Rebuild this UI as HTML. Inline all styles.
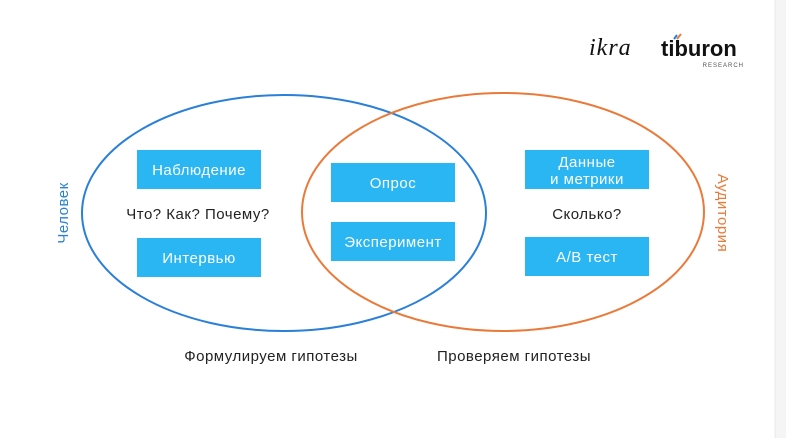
<!DOCTYPE html>
<html><head><meta charset="utf-8"><style>
html,body{margin:0;padding:0;background:#fff;}
body{width:786px;height:438px;overflow:hidden;position:relative;font-family:"Liberation Sans","Noto Sans CJK SC",sans-serif;}
</style></head><body>
<svg width="786" height="438" viewBox="0 0 786 438" xmlns="http://www.w3.org/2000/svg" style="position:absolute;left:0;top:0">
<rect x="775" y="0" width="11" height="438" fill="#f5f5f5"/>
<line x1="775" y1="0" x2="775" y2="438" stroke="#e8e8e8" stroke-width="1"/>
<ellipse cx="284" cy="213" rx="202" ry="118" fill="none" stroke="#2a7fd8" stroke-width="2"/>
<ellipse cx="503" cy="212" rx="201" ry="119" fill="none" stroke="#ea7a3a" stroke-width="2"/>
<g fill="#29b6f2">
<rect x="137" y="150" width="124" height="39"/>
<rect x="137" y="238" width="124" height="39"/>
<rect x="331" y="163" width="124" height="39"/>
<rect x="331" y="222" width="124" height="39"/>
<rect x="525" y="150" width="124" height="39"/>
<rect x="525" y="237" width="124" height="39"/>
</g>
<g font-family="Liberation Sans, sans-serif" font-size="15" letter-spacing="0.5" fill="#fff" text-anchor="middle">
<text x="199" y="175">Наблюдение</text>
<text x="199" y="263">Интервью</text>
<text x="393" y="188">Опрос</text>
<text x="393" y="247">Эксперимент</text>
<text x="587" y="167">Данные</text>
<text x="587" y="184">и метрики</text>
<text x="587" y="262">A/B тест</text>
</g>
<g font-family="Liberation Sans, sans-serif" font-size="15" letter-spacing="0.5" fill="#222" text-anchor="middle">
<text x="198" y="219">Что? Как? Почему?</text>
<text x="587" y="219">Сколько?</text>
<text x="271" y="361">Формулируем гипотезы</text>
<text x="514" y="361">Проверяем  гипотезы</text>
</g>
<text transform="translate(68,213) rotate(-90)" font-family="Liberation Sans, sans-serif" font-size="15" letter-spacing="0.5" fill="#2a7fd8" text-anchor="middle">Человек</text>
<text transform="translate(718,213) rotate(90)" font-family="Liberation Sans, sans-serif" font-size="15" letter-spacing="0.5" fill="#ea7a3a" text-anchor="middle">Аудитория</text>
<text x="589" y="55" font-family="Liberation Serif, serif" font-style="italic" font-size="24" fill="#111" letter-spacing="1">ikra</text>
<text x="661" y="56" font-family="Liberation Sans, sans-serif" font-weight="bold" font-size="22" fill="#111">tiburon</text>
<text x="744" y="67" font-family="Liberation Sans, sans-serif" font-size="6" fill="#555" text-anchor="end" letter-spacing="1">RESEARCH</text>
<line x1="674" y1="39" x2="677" y2="35" stroke="#2a7fd8" stroke-width="2"/>
<line x1="677" y1="39" x2="681" y2="34" stroke="#ea7a3a" stroke-width="2"/>
</svg>
</body></html>
